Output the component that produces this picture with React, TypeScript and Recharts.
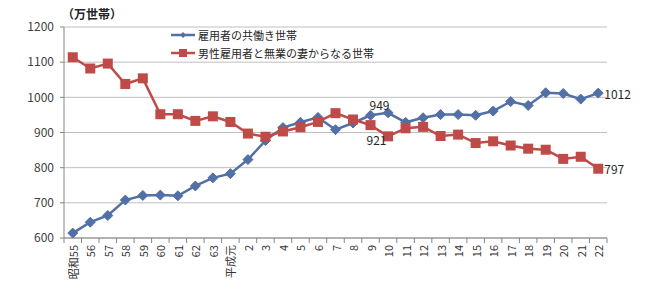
import React from 'react';
import { LineChart, Line, XAxis, YAxis, CartesianGrid, Legend, LabelList } from 'recharts';

// 年次ラベル（昭和55〜平成22）
const years = [
  '昭和55', '56', '57', '58', '59', '60', '61', '62', '63', '平成元',
  '2', '3', '4', '5', '6', '7', '8', '9', '10', '11',
  '12', '13', '14', '15', '16', '17', '18', '19', '20', '21', '22',
];

// 雇用者の共働き世帯（万世帯）
const dualIncome = [
  614, 645, 664, 708, 721, 722, 720, 748, 771, 783,
  823, 877, 914, 929, 943, 908, 927, 949, 956, 929,
  942, 951, 951, 949, 961, 988, 977, 1013, 1011, 995, 1012,
];

// 男性雇用者と無業の妻からなる世帯（万世帯）
const singleIncome = [
  1114, 1082, 1096, 1038, 1054, 952, 952, 933, 946, 930,
  897, 888, 903, 915, 930, 955, 937, 921, 889, 912,
  916, 890, 894, 870, 875, 863, 854, 851, 825, 831, 797,
];

const yTicks = [600, 700, 800, 900, 1000, 1100, 1200];

const SERIES_1 = '雇用者の共働き世帯';
const SERIES_2 = '男性雇用者と無業の妻からなる世帯';

const BLUE = '#5270a6';
const RED = '#be4b48';
const FONT = '"Noto Sans CJK JP", "Noto Sans", sans-serif';

const data = years.map((year, i) => ({
  year,
  dual: dualIncome[i],
  single: singleIncome[i],
}));

const CHART_W = 650;
const CHART_H = 298;
const Y_AXIS_W = 64;
const RIGHT_MARGIN = 43;
const step = (CHART_W - Y_AXIS_W - RIGHT_MARGIN) / years.length;

const DiamondDot = (props: any) => {
  const { cx, cy, index } = props;
  if (cx == null || cy == null) return null;
  const r = 5;
  return (
    <path
      key={`d-${index}`}
      d={`M${cx},${cy - r} L${cx + r},${cy} L${cx},${cy + r} L${cx - r},${cy} Z`}
      fill={BLUE}
      stroke={BLUE}
      strokeWidth={1}
    />
  );
};

const SquareDot = (props: any) => {
  const { cx, cy, index } = props;
  if (cx == null || cy == null) return null;
  const r = 5;
  return <rect key={`s-${index}`} x={cx - r} y={cy - r} width={r * 2} height={r * 2} fill={RED} />;
};

// 横軸：区切り目盛り + 縦書き（90度回転）ラベル
const YearTick = (props: any) => {
  const { x, y, payload, index } = props;
  const ty = y + 7;
  return (
    <g>
      <line x1={x - step / 2} y1={y} x2={x - step / 2} y2={y + 5} stroke="#868686" />
      {index === years.length - 1 && (
        <line x1={x + step / 2} y1={y} x2={x + step / 2} y2={y + 5} stroke="#868686" />
      )}
      <text
        x={x}
        y={ty}
        transform={`rotate(-90, ${x}, ${ty})`}
        textAnchor="end"
        dominantBaseline="central"
        fontSize={11}
        fontFamily={FONT}
        fill="#333"
      >
        {payload.value}
      </text>
    </g>
  );
};

const makeLabel = (placements: Record<number, 'top' | 'bottom' | 'right'>) => (props: any) => {
  const { x, y, value, index } = props;
  const place = placements[index];
  if (!place) return null;
  let tx = x;
  let ty = y;
  let anchor: 'start' | 'middle' = 'middle';
  if (place === 'top') {
    tx = x + 9;
    ty = y - 11;
  } else if (place === 'bottom') {
    tx = x + 6;
    ty = y + 14;
  } else {
    tx = x + 6;
    anchor = 'start';
  }
  return (
    <text
      key={`l-${index}`}
      x={tx}
      y={ty}
      textAnchor={anchor}
      dominantBaseline="central"
      fontSize={12}
      fontFamily={FONT}
      fill="#262626"
    >
      {value}
    </text>
  );
};

const LegendContent = () => (
  <div style={{ fontFamily: FONT, fontSize: 11, color: '#262626', lineHeight: '18px' }}>
    {[
      { name: SERIES_1, color: BLUE, shape: 'diamond' },
      { name: SERIES_2, color: RED, shape: 'square' },
    ].map((item) => (
      <div key={item.name} style={{ display: 'flex', alignItems: 'center' }}>
        <svg width={26} height={12} style={{ marginRight: 2 }}>
          <line x1={1} y1={6} x2={25} y2={6} stroke={item.color} strokeWidth={2.5} />
          {item.shape === 'diamond' ? (
            <path d="M13,3 L16,6 L13,9 L10,6 Z" fill={item.color} />
          ) : (
            <rect x={9} y={2} width={8} height={8} fill={item.color} />
          )}
        </svg>
        <span>{item.name}</span>
      </div>
    ))}
  </div>
);

export default function App() {
  return (
    <div style={{ position: 'relative', width: CHART_W, height: CHART_H, background: '#fff' }}>
      <style>{'body{margin:0}'}</style>
      <div
        style={{
          position: 'absolute',
          left: 62,
          top: 5,
          fontFamily: FONT,
          fontSize: 12,
          fontWeight: 600,
          color: '#262626',
        }}
      >
        （万世帯）
      </div>
      <LineChart
        width={CHART_W}
        height={CHART_H}
        data={data}
        margin={{ top: 27, right: RIGHT_MARGIN, left: 0, bottom: 0 }}
      >
        <CartesianGrid vertical={false} stroke="#bfbfbf" />
        <XAxis
          dataKey="year"
          interval={0}
          height={60}
          tickSize={0}
          tickMargin={0}
          padding={{ left: step / 2, right: step / 2 }}
          tick={<YearTick />}
          axisLine={{ stroke: '#868686' }}
        />
        <YAxis
          width={Y_AXIS_W}
          domain={[600, 1200]}
          ticks={yTicks}
          tickSize={4}
          tickMargin={6}
          axisLine={{ stroke: '#868686' }}
          tickLine={{ stroke: '#868686' }}
          tick={{ fontSize: 12, fontFamily: FONT, fill: '#404040' }}
        />
        <Legend
          layout="horizontal"
          verticalAlign="middle"
          align="center"
          content={<LegendContent />}
          wrapperStyle={{ top: 26, left: 170, width: 'auto' }}
        />
        <Line
          type="linear"
          dataKey="dual"
          name={SERIES_1}
          stroke={BLUE}
          strokeWidth={2.5}
          dot={<DiamondDot />}
          activeDot={false}
          isAnimationActive={false}
        >
          <LabelList dataKey="dual" content={makeLabel({ 17: 'top', 30: 'right' })} />
        </Line>
        <Line
          type="linear"
          dataKey="single"
          name={SERIES_2}
          stroke={RED}
          strokeWidth={2.5}
          dot={<SquareDot />}
          activeDot={false}
          isAnimationActive={false}
        >
          <LabelList dataKey="single" content={makeLabel({ 17: 'bottom', 30: 'right' })} />
        </Line>
      </LineChart>
    </div>
  );
}
